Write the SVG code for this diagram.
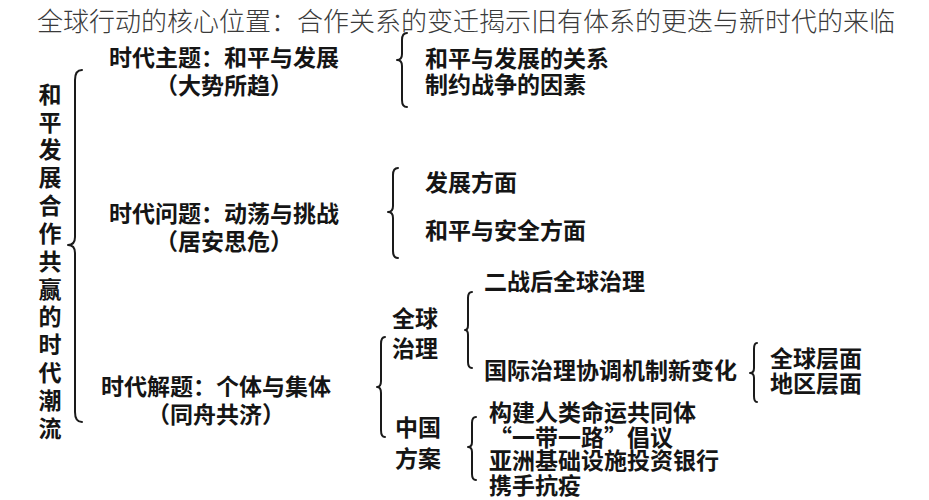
<svg xmlns="http://www.w3.org/2000/svg" width="929" height="500" viewBox="0 0 929 500">
<style>
.t{font-family:"Noto Sans CJK SC","Noto Sans",sans-serif;font-weight:700;font-size:23px;fill:#151515}
.c{text-anchor:middle}
.title{font-family:"Noto Sans CJK SC","Noto Sans",sans-serif;font-weight:300;font-size:26px;fill:#3a3a3a}
.b{fill:none;stroke:#1a1a1a;stroke-width:2;stroke-linecap:round;stroke-linejoin:round}
</style>
<rect width="929" height="500" fill="#ffffff"/>
<g id="connectors">
<path class="b" d="M82,70 Q75,70 75,80 L75,237 Q75,245 68,245 Q75,245 75,253 L75,412 Q75,422 82,422"/>
<path class="b" d="M407,33 Q402,33 402,40 L402,54 Q402,60 397,60 Q402,60 402,66 L402,100 Q402,107 407,107"/>
<path class="b" d="M398,168 Q393,168 393,175 L393,206 Q393,212 388,212 Q393,212 393,218 L393,251 Q393,258 398,258"/>
<path class="b" d="M385,337 Q381,337 381,344 L381,381 Q381,387 377,387 Q381,387 381,393 L381,430 Q381,437 385,437"/>
<path class="b" d="M472,292 Q468,292 468,298 L468,325 Q468,330 465,330 Q468,330 468,335 L468,362 Q468,368 472,368"/>
<path class="b" d="M757,343 Q754,343 754,349 L754,368 Q754,373 750,373 Q754,373 754,378 L754,396 Q754,402 757,402"/>
<path class="b" d="M476,417 Q472,417 472,423 L472,442 Q472,447 468,447 Q472,447 472,452 L472,474 Q472,480 476,480"/>
</g>
<g id="title"><text class="title" x="37" y="31">全球行动的核心位置：合作关系的变迁揭示旧有体系的更迭与新时代的来临</text></g>
<g id="root"><text class="t c" x="50" y="102.7"><tspan x="50">和</tspan><tspan x="50" dy="27.83">平</tspan><tspan x="50" dy="27.83">发</tspan><tspan x="50" dy="27.83">展</tspan><tspan x="50" dy="27.83">合</tspan><tspan x="50" dy="27.83">作</tspan><tspan x="50" dy="27.83">共</tspan><tspan x="50" dy="27.83">赢</tspan><tspan x="50" dy="27.83">的</tspan><tspan x="50" dy="27.83">时</tspan><tspan x="50" dy="27.83">代</tspan><tspan x="50" dy="27.83">潮</tspan><tspan x="50" dy="27.83">流</tspan></text></g>
<g id="theme"><text class="t c" x="224" y="66">时代主题：和平与发展</text><text class="t c" x="224" y="94">（大势所趋）</text></g>
<g id="problem"><text class="t c" x="224" y="222">时代问题：动荡与挑战</text><text class="t c" x="224" y="250">（居安思危）</text></g>
<g id="solution"><text class="t c" x="216" y="395">时代解题：个体与集体</text><text class="t c" x="216" y="423">（同舟共济）</text></g>
<g id="theme-items"><text class="t" x="425" y="67">和平与发展的关系</text><text class="t" x="425" y="93">制约战争的因素</text></g>
<g id="problem-items"><text class="t" x="425" y="191">发展方面</text><text class="t" x="425" y="239">和平与安全方面</text></g>
<g id="global-gov"><text class="t" x="392" y="327">全球</text><text class="t" x="392" y="357">治理</text></g>
<g id="postwar"><text class="t" x="484" y="290">二战后全球治理</text></g>
<g id="intl"><text class="t" x="484" y="379">国际治理协调机制新变化</text></g>
<g id="levels"><text class="t" x="770" y="367">全球层面</text><text class="t" x="770" y="392">地区层面</text></g>
<g id="china"><text class="t" x="395" y="436">中国</text><text class="t" x="395" y="467">方案</text></g>
<g id="china-items"><text class="t" x="489" y="421">构建人类命运共同体</text><text class="t" x="489" y="446">“一带一路”倡议</text><text class="t" x="489" y="469">亚洲基础设施投资银行</text><text class="t" x="489" y="494">携手抗疫</text></g>
</svg>
